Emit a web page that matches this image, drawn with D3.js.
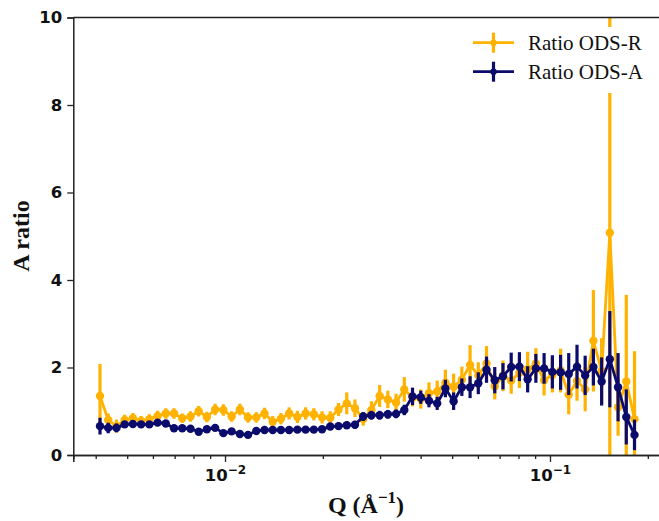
<!DOCTYPE html>
<html>
<head>
<meta charset="utf-8">
<script src="https://cdn.jsdelivr.net/npm/d3@7/dist/d3.min.js"></script>
<style>
  html, body { margin: 0; padding: 0; background: #fff; }
  svg { display: block; }
</style>
</head>
<body>
<svg id="chart" width="659" height="521"></svg>
<script>
// Scattering vector Q (1/Å), log-spaced bins
const Q = [
  0.004124, 0.004371, 0.004634, 0.004912, 0.005206, 0.005519, 0.005850, 0.006201,
  0.006573, 0.006967, 0.007385, 0.007829, 0.008298, 0.008796, 0.009324, 0.009883,
  0.01048, 0.01111, 0.01177, 0.01248, 0.01323, 0.01402, 0.01486, 0.01575,
  0.01670, 0.01770, 0.01876, 0.01989, 0.02108, 0.02235, 0.02369, 0.02511,
  0.02662, 0.02821, 0.02991, 0.03170, 0.03360, 0.03562, 0.03775, 0.04002,
  0.04242, 0.04497, 0.04766, 0.05052, 0.05355, 0.05677, 0.06017, 0.06378,
  0.06761, 0.07167, 0.07597, 0.08053, 0.08536, 0.09048, 0.09591, 0.1017,
  0.1078, 0.1142, 0.1211, 0.1283, 0.1360, 0.1442, 0.1528, 0.1620,
  0.1717, 0.1820
];

// Ratio ODS-R and its uncertainty
const ratioR = [
  1.35, 0.80, 0.66, 0.80, 0.84, 0.78, 0.82, 0.89,
  0.95, 0.95, 0.84, 0.88, 1.00, 0.87, 1.04, 1.03,
  0.88, 1.04, 0.86, 0.86, 0.95, 0.76, 0.83, 0.95,
  0.87, 0.95, 0.93, 0.86, 0.85, 1.04, 1.18, 1.07,
  0.82, 1.03, 1.35, 1.27, 1.20, 1.50, 1.31, 1.28,
  1.41, 1.45, 1.65, 1.56, 1.72, 2.06, 1.82, 2.09,
  1.57, 1.81, 1.70, 1.88, 1.96, 2.09, 1.71, 1.83,
  1.93, 1.38, 1.69, 1.50, 2.61, 1.92, 5.08, 1.09,
  1.68, 0.82
];
const errR = [
  0.73, 0.15, 0.15, 0.12, 0.12, 0.11, 0.11, 0.12,
  0.12, 0.12, 0.11, 0.12, 0.12, 0.12, 0.13, 0.13,
  0.12, 0.13, 0.12, 0.12, 0.13, 0.13, 0.13, 0.14,
  0.14, 0.14, 0.14, 0.14, 0.15, 0.15, 0.25, 0.20,
  0.15, 0.20, 0.25, 0.20, 0.20, 0.28, 0.20, 0.22,
  0.25, 0.25, 0.30, 0.30, 0.30, 0.45, 0.30, 0.40,
  0.30, 0.35, 0.30, 0.35, 0.40, 0.35, 0.35, 0.40,
  0.50, 0.45, 0.45, 0.50, 1.16, 0.75, 5.60, 0.65,
  1.98, 1.55
];

// Ratio ODS-A and its uncertainty
const ratioA = [
  0.66, 0.62, 0.62, 0.70, 0.71, 0.70, 0.70, 0.74,
  0.72, 0.61, 0.61, 0.60, 0.53, 0.59, 0.62, 0.50,
  0.54, 0.48, 0.46, 0.55, 0.57, 0.57, 0.57, 0.57,
  0.58, 0.58, 0.58, 0.59, 0.65, 0.66, 0.68, 0.69,
  0.88, 0.91, 0.91, 0.93, 0.94, 1.03, 1.34, 1.32,
  1.24, 1.18, 1.52, 1.23, 1.55, 1.55, 1.64, 1.95,
  1.71, 1.80, 2.01, 2.02, 1.73, 1.98, 1.98, 1.90,
  1.89, 1.85, 2.02, 1.82, 2.01, 1.68, 2.19, 1.55,
  0.87, 0.46
];
const errA = [
  0.19, 0.12, 0.10, 0.06, 0.06, 0.06, 0.06, 0.06,
  0.06, 0.06, 0.06, 0.06, 0.06, 0.06, 0.06, 0.06,
  0.06, 0.06, 0.06, 0.06, 0.06, 0.06, 0.06, 0.06,
  0.06, 0.07, 0.07, 0.07, 0.08, 0.08, 0.08, 0.09,
  0.10, 0.10, 0.10, 0.10, 0.10, 0.12, 0.20, 0.15,
  0.15, 0.15, 0.20, 0.20, 0.20, 0.25, 0.25, 0.30,
  0.30, 0.30, 0.33, 0.33, 0.30, 0.33, 0.35, 0.38,
  0.40, 0.48, 0.50, 0.45, 0.42, 0.55, 1.10, 0.78,
  0.63, 0.35
];

const seriesNames = ["Ratio ODS-R", "Ratio ODS-A"];
const seriesColors = ["#ffb300", "#0b0b6b"];
const yTicks = [0, 2, 4, 6, 8, 10];
const xMajorTicks = [0.01, 0.1];
const xMinorTicks = [0.004, 0.005, 0.006, 0.007, 0.008, 0.009,
                     0.02, 0.03, 0.04, 0.05, 0.06, 0.07, 0.08, 0.09, 0.2];

const svg = d3.select("#chart");
const plot = { left: 73.3, right: 665, top: 17.5, bottom: 455 };

const x = d3.scaleLog().domain([0.003413, 0.2259]).range([plot.left, plot.right]);
const y = d3.scaleLinear().domain([0, 10]).range([plot.bottom, plot.top]);

svg.append("defs").append("clipPath").attr("id", "plotClip")
  .append("rect")
  .attr("x", plot.left).attr("y", plot.top)
  .attr("width", plot.right - plot.left).attr("height", plot.bottom - plot.top);

const sans = "'DejaVu Sans', sans-serif";
const serif = "'Liberation Serif', 'DejaVu Serif', serif";

// Data series: errorbars, connecting line, markers
const series = [
  { name: seriesNames[0], color: seriesColors[0], v: ratioR, e: errR },
  { name: seriesNames[1], color: seriesColors[1], v: ratioA, e: errA }
];

const dataG = svg.append("g").attr("clip-path", "url(#plotClip)");
const line = d3.line().x(d => x(d.q)).y(d => y(d.v));

series.forEach(s => {
  const pts = Q.map((q, i) => ({ q, v: s.v[i], e: s.e[i] }));
  const g = dataG.append("g");
  g.selectAll("line.err").data(pts).join("line")
    .attr("class", "err")
    .attr("x1", d => x(d.q)).attr("x2", d => x(d.q))
    .attr("y1", d => y(d.v - d.e)).attr("y2", d => y(d.v + d.e))
    .attr("stroke", s.color).attr("stroke-width", 3.2);
  g.append("path").datum(pts)
    .attr("d", line)
    .attr("fill", "none").attr("stroke", s.color)
    .attr("stroke-width", 2.8).attr("stroke-linejoin", "round");
  g.selectAll("circle").data(pts).join("circle")
    .attr("cx", d => x(d.q)).attr("cy", d => y(d.v))
    .attr("r", 4.2).attr("fill", s.color);
});

// Axes
const xAxisMajor = svg.append("g")
  .attr("transform", `translate(0,${plot.bottom})`)
  .call(d3.axisBottom(x).tickValues(xMajorTicks).tickSize(7).tickPadding(5).tickFormat(() => ""));
const xAxisMinor = svg.append("g")
  .attr("transform", `translate(0,${plot.bottom})`)
  .call(d3.axisBottom(x).tickValues(xMinorTicks).tickSize(4).tickFormat(() => ""));
[xAxisMajor, xAxisMinor].forEach(g => {
  g.select(".domain").attr("stroke", "#222").attr("stroke-width", 1.5);
  g.selectAll(".tick line").attr("stroke", "#222").attr("stroke-width", 1.3);
});

// Major labels as 10 with superscript exponent
xAxisMajor.selectAll(".tick").each(function (d) {
  const exp = Math.round(Math.log10(d));
  const t = d3.select(this).append("text")
    .attr("y", 26).attr("text-anchor", "middle")
    .attr("fill", "#111")
    .style("font-family", sans).style("font-weight", "bold").style("font-size", "16.5px");
  t.append("tspan").text("10");
  t.append("tspan").attr("dy", -7).style("font-size", "12px").text("\u2212" + Math.abs(exp));
});

const yAxis = svg.append("g")
  .attr("transform", `translate(${plot.left},0)`)
  .call(d3.axisLeft(y).tickValues(yTicks).tickSize(6).tickPadding(5).tickFormat(d3.format("d")));
yAxis.select(".domain").attr("stroke", "#222").attr("stroke-width", 1.5);
yAxis.selectAll(".tick line").attr("stroke", "#222").attr("stroke-width", 1.3);
yAxis.selectAll(".tick text")
  .attr("fill", "#111")
  .style("font-family", sans).style("font-weight", "bold").style("font-size", "16.5px");

// Top spine
svg.append("line")
  .attr("x1", plot.left).attr("x2", plot.right)
  .attr("y1", plot.top).attr("y2", plot.top)
  .attr("stroke", "#222").attr("stroke-width", 1.5);

// Axis titles
svg.append("text")
  .attr("transform", "translate(29,236) rotate(-90)")
  .attr("text-anchor", "middle")
  .attr("fill", "#111")
  .style("font-family", serif).style("font-weight", "bold").style("font-size", "24px")
  .text("A ratio");

const xt = svg.append("text")
  .attr("x", 366).attr("y", 513)
  .attr("text-anchor", "middle")
  .attr("fill", "#111")
  .style("font-family", serif).style("font-weight", "bold").style("font-size", "24px");
xt.append("tspan").text("Q (Å");
xt.append("tspan").attr("dy", -10).style("font-size", "17px").text("\u22121");
xt.append("tspan").attr("dy", 10).text(")");

// Legend
const legend = svg.append("g");
legend.append("rect")
  .attr("x", 466).attr("y", 27).attr("width", 185).attr("height", 66)
  .attr("fill", "#fff");
series.forEach((s, i) => {
  const cy = 42.7 + i * 29;
  const g = legend.append("g");
  g.append("line").attr("x1", 473).attr("x2", 514).attr("y1", cy).attr("y2", cy)
    .attr("stroke", s.color).attr("stroke-width", 2.8);
  g.append("line").attr("x1", 493.5).attr("x2", 493.5).attr("y1", cy - 10).attr("y2", cy + 10)
    .attr("stroke", s.color).attr("stroke-width", 3.2);
  g.append("circle").attr("cx", 493.5).attr("cy", cy).attr("r", 3.2).attr("fill", s.color);
  g.append("text").attr("x", 528).attr("y", cy + 7.5)
    .attr("fill", "#111")
    .style("font-family", serif).style("font-size", "21px")
    .text(s.name);
});
</script>
</body>
</html>
